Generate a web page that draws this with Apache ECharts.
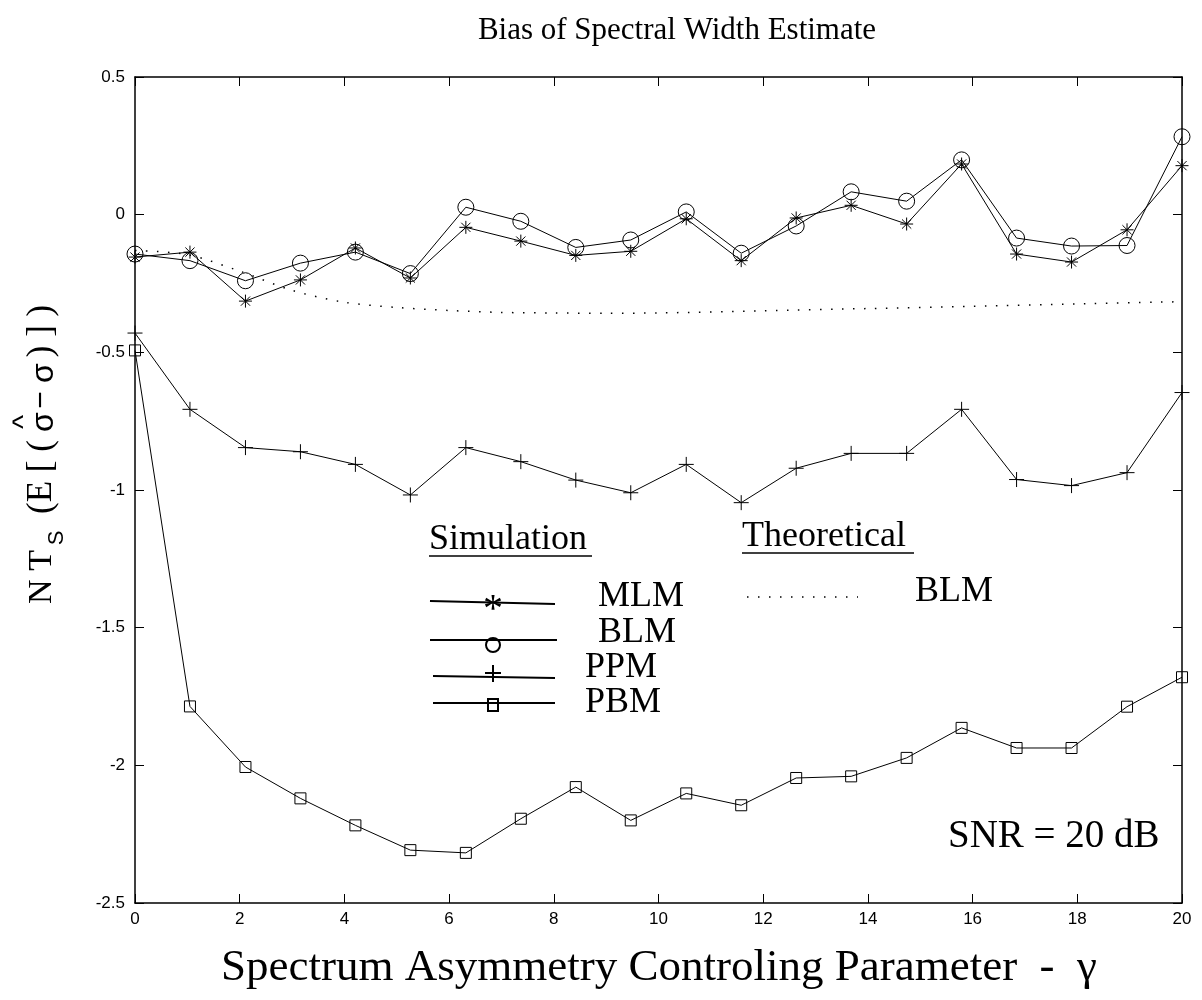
<!DOCTYPE html>
<html>
<head>
<meta charset="utf-8">
<script src="https://cdn.jsdelivr.net/npm/echarts@6/dist/echarts.min.js"></script>
<style>html,body{margin:0;padding:0;background:#fff}#c{width:1202px;height:1000px}</style>
</head>
<body>
<div id="c"></div>
<script>
// ---- data ----
var gamma = [0, 1.05, 2.11, 3.16, 4.21, 5.26, 6.32, 7.37, 8.42, 9.47, 10.53, 11.58, 12.63, 13.68, 14.74, 15.79, 16.84, 17.89, 18.95, 20];
var mlm = [-0.154, -0.136, -0.314, -0.237, -0.121, -0.230, -0.046, -0.096, -0.148, -0.133, -0.015, -0.167, -0.012, 0.034, -0.034, 0.184, -0.143, -0.172, -0.055, 0.178];
var blm = [-0.143, -0.167, -0.240, -0.176, -0.136, -0.214, 0.027, -0.024, -0.119, -0.092, 0.010, -0.140, -0.041, 0.083, 0.049, 0.199, -0.085, -0.114, -0.112, 0.283];
var ppm = [-0.430, -0.707, -0.846, -0.861, -0.907, -1.018, -0.846, -0.897, -0.964, -1.010, -0.907, -1.046, -0.921, -0.867, -0.867, -0.707, -0.962, -0.984, -0.937, -0.646];
var pbm = [-0.493, -1.786, -2.006, -2.120, -2.218, -2.308, -2.318, -2.194, -2.079, -2.200, -2.102, -2.145, -2.046, -2.040, -1.973, -1.864, -1.937, -1.937, -1.787, -1.680];
var theoryGamma = [0, 1, 2, 3, 4, 5, 6, 7, 8, 9, 10, 12, 14, 16, 18, 20];
var theoryBlm = [-0.130, -0.145, -0.205, -0.275, -0.318, -0.337, -0.348, -0.355, -0.357, -0.358, -0.357, -0.349, -0.341, -0.333, -0.324, -0.316];
var xTicks = [0, 2, 4, 6, 8, 10, 12, 14, 16, 18, 20];
var yTicks = [0.5, 0, -0.5, -1, -1.5, -2, -2.5];

function pairs(xs, ys) { return xs.map(function (x, i) { return [x, ys[i]]; }); }

var SERIF = '"Liberation Serif","Times New Roman",serif';
var SANS = '"Liberation Sans",Arial,sans-serif';

var STAR = 'path://M0,-10L0,10M-10,0L10,0M-7.07,-7.07L7.07,7.07M-7.07,7.07L7.07,-7.07';
var PLUS = 'path://M0,-10L0,10M-10,0L10,0';
var CIRC = 'path://M10,0A10,10,0,1,1,-10,0A10,10,0,1,1,10,0Z';
var SQR = 'path://M-10,-10L10,-10L10,10L-10,10Z';

function simSeries(name, ys, sym, size) {
  return {
    name: name, type: 'line', data: pairs(gamma, ys),
    symbol: sym, symbolSize: size, symbolKeepAspect: true,
    showAllSymbol: true, animation: false,
    lineStyle: { color: '#000', width: 1 },
    itemStyle: { color: 'rgba(0,0,0,0)', borderColor: '#000', borderWidth: 1 },
    emphasis: { disabled: true }
  };
}

var axisBase = {
  type: 'value', splitLine: { show: false },
  axisLine: { show: true, onZero: false, lineStyle: { color: '#000', width: 1.5 } },
  axisTick: { show: true, inside: true, length: 9, lineStyle: { color: '#000', width: 1 } }
};

function ext(o, add) { var r = JSON.parse(JSON.stringify(o)); for (var k in add) r[k] = add[k]; return r; }

// rotated piece of the y-axis name
function vtext(t, x, y, font) {
  return { type: 'text', x: x, y: y, rotation: Math.PI / 2,
    style: { text: t, align: 'center', verticalAlign: 'middle', font: font, fill: '#000' } };
}

var chart = echarts.init(document.getElementById('c'), null, { renderer: 'canvas' });

var graphics = [
  // title
  { type: 'text', style: { text: 'Bias of Spectral Width Estimate', x: 677, y: 31, align: 'center', verticalAlign: 'middle', font: '31px ' + SERIF, fill: '#000' } },
  // x axis name
  { type: 'text', style: { text: 'Spectrum Asymmetry Controling Parameter  -  \u03b3', x: 659, y: 968, align: 'center', verticalAlign: 'middle', font: '45px ' + SERIF, fill: '#000' } },
  // y axis name, built from pieces:  N T_S ( E [ ( σ^ − σ ) ] )
  vtext('N T', 42, 577, '34px ' + SERIF),
  vtext('S', 57, 538, '22px ' + SANS),
  vtext('(E [ (', 42, 477, '35px ' + SERIF),
  vtext('\u03c3', 44, 422, '32px ' + SANS),
  vtext('^', 25, 422, '30px ' + SANS),
  vtext('\u2212', 42, 400, '30px ' + SANS),
  vtext('\u03c3', 44, 373, '32px ' + SANS),
  vtext(') ] )', 42, 331, '35px ' + SERIF),
  // legend headers
  { type: 'text', style: { text: 'Simulation', x: 429, y: 540, verticalAlign: 'middle', font: '36px ' + SERIF, fill: '#000' } },
  { type: 'line', shape: { x1: 429, y1: 556, x2: 592, y2: 556 }, style: { stroke: '#000', lineWidth: 1.5 } },
  { type: 'text', style: { text: 'Theoretical', x: 742, y: 537, verticalAlign: 'middle', font: '36px ' + SERIF, fill: '#000' } },
  { type: 'line', shape: { x1: 742, y1: 553, x2: 914, y2: 553 }, style: { stroke: '#000', lineWidth: 1.5 } },
  // MLM
  { type: 'line', shape: { x1: 430, y1: 601, x2: 555, y2: 604 }, style: { stroke: '#000', lineWidth: 2 } },
  { type: 'text', style: { text: '*', x: 493, y: 610, align: 'center', verticalAlign: 'middle', font: '40px ' + SERIF, fill: '#000' } },
  { type: 'text', style: { text: 'MLM', x: 598, y: 597, verticalAlign: 'middle', font: '36px ' + SERIF, fill: '#000' } },
  // BLM
  { type: 'line', shape: { x1: 430, y1: 640, x2: 557, y2: 640 }, style: { stroke: '#000', lineWidth: 2 } },
  { type: 'circle', shape: { cx: 493, cy: 645, r: 7 }, style: { fill: 'none', stroke: '#000', lineWidth: 2 } },
  { type: 'text', style: { text: 'BLM', x: 598, y: 633, verticalAlign: 'middle', font: '36px ' + SERIF, fill: '#000' } },
  // PPM
  { type: 'line', shape: { x1: 433, y1: 676, x2: 555, y2: 678 }, style: { stroke: '#000', lineWidth: 2 } },
  { type: 'line', shape: { x1: 485, y1: 673, x2: 501, y2: 673 }, style: { stroke: '#000', lineWidth: 2 } },
  { type: 'line', shape: { x1: 493, y1: 665, x2: 493, y2: 682 }, style: { stroke: '#000', lineWidth: 2 } },
  { type: 'text', style: { text: 'PPM', x: 585, y: 668, verticalAlign: 'middle', font: '36px ' + SERIF, fill: '#000' } },
  // PBM
  { type: 'line', shape: { x1: 433, y1: 703, x2: 555, y2: 703 }, style: { stroke: '#000', lineWidth: 2 } },
  { type: 'rect', shape: { x: 488, y: 699, width: 10, height: 12 }, style: { fill: 'none', stroke: '#000', lineWidth: 2 } },
  { type: 'text', style: { text: 'PBM', x: 585, y: 703, verticalAlign: 'middle', font: '36px ' + SERIF, fill: '#000' } },
  // theoretical legend
  { type: 'line', shape: { x1: 747, y1: 597, x2: 858, y2: 597 }, style: { stroke: '#000', lineWidth: 1.5, lineDash: [1.5, 9.5] } },
  { type: 'text', style: { text: 'BLM', x: 915, y: 592, verticalAlign: 'middle', font: '36px ' + SERIF, fill: '#000' } },
  // SNR
  { type: 'text', style: { text: 'SNR = 20 dB', x: 948, y: 837, verticalAlign: 'middle', font: '39px ' + SERIF, fill: '#000' } }
];

chart.setOption({
  animation: false,
  backgroundColor: '#fff',
  grid: { left: 135, right: 20, top: 77, bottom: 97, containLabel: false },
  xAxis: [
    ext(axisBase, { min: 0, max: 20, interval: 2, position: 'bottom',
      axisLabel: { show: true, color: '#000', fontFamily: SANS, fontSize: 17, margin: 8,
        formatter: function (v) { return xTicks.indexOf(v) >= 0 ? String(v) : ''; } } }),
    ext(axisBase, { min: 0, max: 20, interval: 2, position: 'top', axisLabel: { show: false } })
  ],
  yAxis: [
    ext(axisBase, { min: -2.5, max: 0.5, interval: 0.5, position: 'left',
      axisLabel: { show: true, color: '#000', fontFamily: SANS, fontSize: 17, margin: 10,
        formatter: function (v) { return yTicks.indexOf(v) >= 0 ? String(v) : ''; } } }),
    ext(axisBase, { min: -2.5, max: 0.5, interval: 0.5, position: 'right', axisLabel: { show: false } })
  ],
  series: [
    {
      name: 'BLM theoretical', type: 'line', data: pairs(theoryGamma, theoryBlm),
      symbol: 'none', smooth: 0.3, animation: false,
      lineStyle: { color: '#000', width: 1.5, type: [1.5, 9.5] },
      emphasis: { disabled: true }
    },
    simSeries('MLM', mlm, STAR, 13),
    simSeries('BLM', blm, CIRC, 16),
    simSeries('PPM', ppm, PLUS, 15),
    simSeries('PBM', pbm, SQR, 11)
  ],
  graphic: { elements: graphics }
});
</script>
</body>
</html>
